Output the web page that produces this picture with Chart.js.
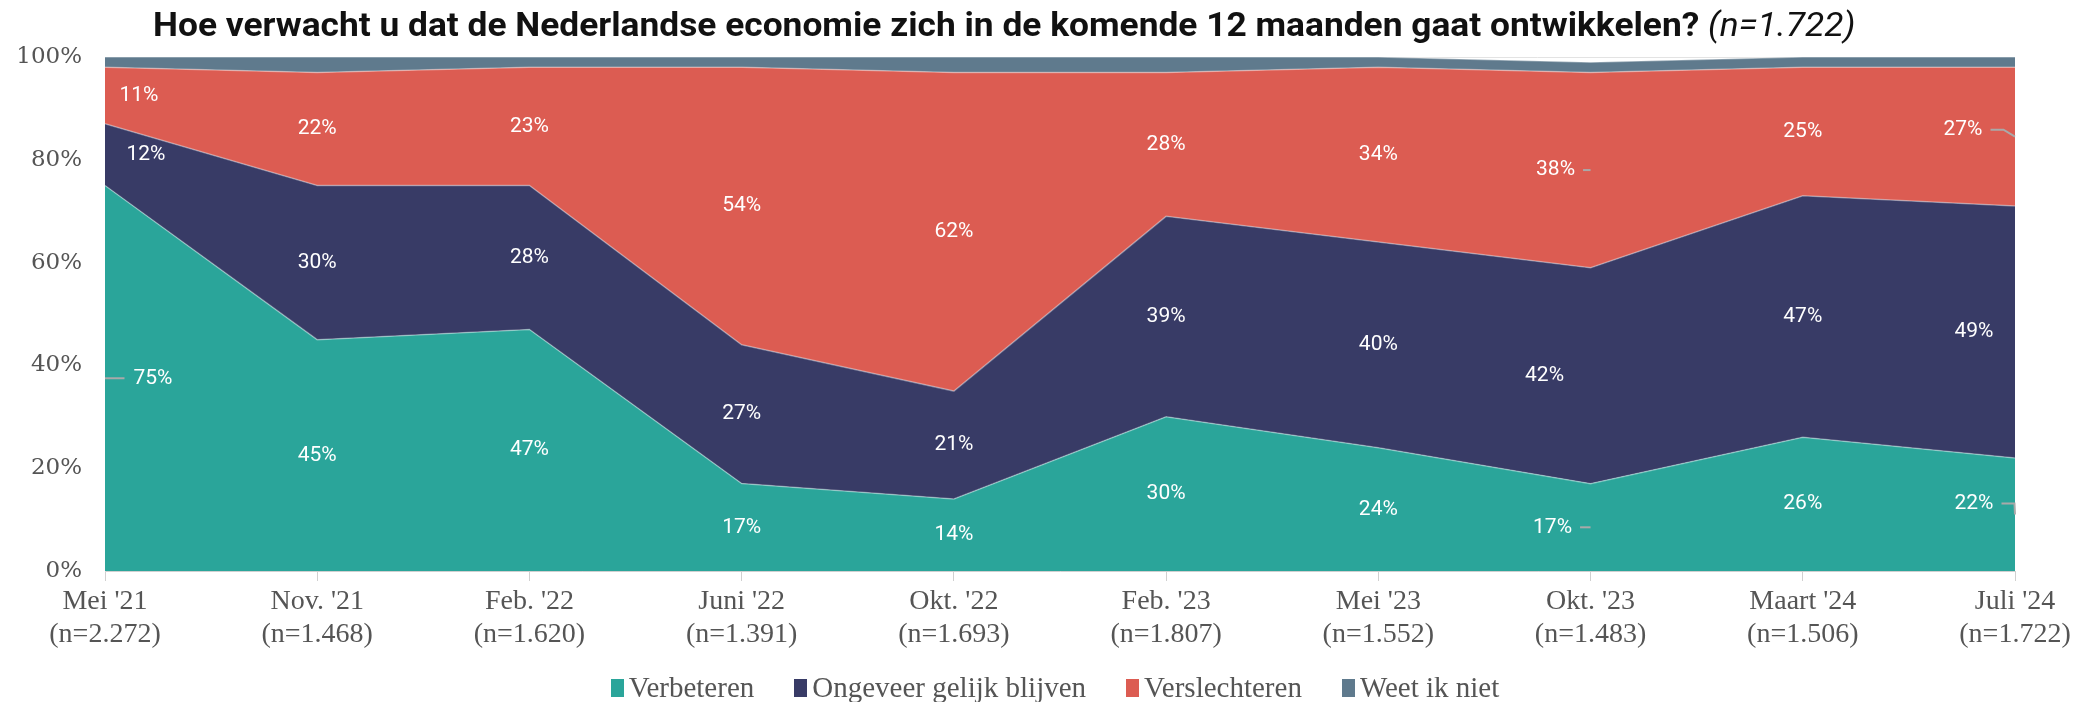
<!DOCTYPE html>
<html>
<head>
<meta charset="utf-8">
<script src="https://cdn.jsdelivr.net/npm/chart.js@4.4.1/dist/chart.umd.min.js"></script>
<style>
  body { margin: 0; background: #fff; }
  #wrap { position: relative; width: 2083px; height: 702px; }
  #title {
    position: absolute; left: 153px; top: 4px;
    font-family: Roboto, 'Liberation Sans', sans-serif; font-size: 34px;
    color: #111; white-space: nowrap; transform-origin: left top;
  }
  #title b { font-weight: 700; }
  #title i { font-weight: 400; }
  #legend {
    position: absolute; left: 100px; width: 1910px; top: 671px;
    display: flex; justify-content: center; gap: 40px;
    font-family: 'Liberation Serif', serif; font-size: 29px; color: #555;
  }
  #legend span.item { display: flex; align-items: center; gap: 5px; }
  #legend span.box { display: inline-block; width: 13px; height: 18px; }
</style>
</head>
<body>
<div id="wrap">
  <div id="title"><b>Hoe verwacht u dat de Nederlandse economie zich in de komende 12 maanden gaat ontwikkelen?</b> <i>(n=1.722)</i></div>
  <canvas id="myChart" width="2083" height="702"></canvas>
  <div id="legend"></div>
</div>
<script>
// data
const months = ["Mei '21", "Nov. '21", "Feb. '22", "Juni '22", "Okt. '22", "Feb. '23", "Mei '23", "Okt. '23", "Maart '24", "Juli '24"];
const sampleSizes = ['(n=2.272)', '(n=1.468)', '(n=1.620)', '(n=1.391)', '(n=1.693)', '(n=1.807)', '(n=1.552)', '(n=1.483)', '(n=1.506)', '(n=1.722)'];

const verbeteren = [75, 45, 47, 17, 14, 30, 24, 17, 26, 22];
const gelijk = [12, 30, 28, 27, 21, 39, 40, 42, 47, 49];
const verslechteren = [11, 22, 23, 54, 62, 28, 34, 38, 25, 27];
const weetNiet = [2, 3, 2, 2, 3, 3, 2, 2, 2, 2];

const seriesNames = ['Verbeteren', 'Ongeveer gelijk blijven', 'Verslechteren', 'Weet ik niet'];
const seriesColors = ['#2aa59a', '#383b66', '#dc5c52', '#5f7a8d'];
const yTicks = [0, 20, 40, 60, 80, 100];

// titel breedte passend maken
const title = document.getElementById('title');
title.style.transform = 'scaleX(' + (1703 / title.offsetWidth) + ')';

// legenda
const legend = document.getElementById('legend');
seriesNames.forEach((name, i) => {
    legend.innerHTML += '<span class="item"><span class="box" style="background:' + seriesColors[i] + '"></span>' + name + '</span>';
});

// labels in het midden van elke band
const tweaks = {
    '0-0': { dx: 48, leader: 'left' },
    '1-0': { dx: 41 },
    '2-0': { dx: 34 },
    '0-7': { dx: -38, leader: 'right' },
    '1-7': { dx: -46 },
    '2-7': { dx: -35, leader: 'right' },
    '0-9': { dx: -41, dy: -11, leader: 'edge' },
    '1-9': { dx: -41 },
    '2-9': { dx: -52, dy: -7, leader: 'edge' }
};

const bandLabels = {
    id: 'bandLabels',
    afterDatasetsDraw(chart) {
        const ctx = chart.ctx;
        const yScale = chart.scales.y;
        const area = chart.chartArea;
        ctx.save();
        ctx.font = '21px Roboto';
        ctx.textAlign = 'center';
        ctx.textBaseline = 'middle';
        for (let d = 0; d < 3; d++) {
            const meta = chart.getDatasetMeta(d);
            const values = chart.data.datasets[d].data;
            meta.data.forEach((pt, i) => {
                const bottom = d == 0 ? yScale.getPixelForValue(0) : chart.getDatasetMeta(d - 1).data[i].y;
                const mid = (pt.y + bottom) / 2;
                const t = tweaks[d + '-' + i] || {};
                const x = pt.x + (t.dx || 0);
                const y = mid + (t.dy || 0);
                const txt = values[i] + '%';
                const w = ctx.measureText(txt).width;
                ctx.fillStyle = '#fff';
                ctx.fillText(txt, x, y);
                if (t.leader) {
                    ctx.strokeStyle = '#a9a9a9';
                    ctx.lineWidth = 2;
                    ctx.beginPath();
                    if (t.leader == 'left') {
                        ctx.moveTo(area.left, y);
                        ctx.lineTo(x - w / 2 - 9, y);
                    } else if (t.leader == 'right') {
                        ctx.moveTo(x + w / 2 + 8, y);
                        ctx.lineTo(pt.x, y);
                    } else {
                        ctx.moveTo(x + w / 2 + 8, y);
                        ctx.lineTo(x + w / 2 + 21, y);
                        ctx.lineTo(area.right, mid);
                    }
                    ctx.stroke();
                }
            });
        }
        ctx.restore();
    }
};

const seriesData = [verbeteren, gelijk, verslechteren, weetNiet];

const config = {
    type: 'line',
    data: {
        labels: months.map((m, i) => [m, sampleSizes[i]]),
        datasets: seriesData.map((vals, i) => ({
            label: seriesNames[i],
            data: vals,
            fill: i == 0 ? 'origin' : '-1',
            backgroundColor: seriesColors[i],
            borderColor: 'rgba(255,255,255,0.35)',
            borderWidth: 1.5,
            pointRadius: 0,
            tension: 0
        }))
    },
    options: {
        responsive: false,
        animation: false,
        devicePixelRatio: 1,
        layout: { padding: { top: 57, right: 68, left: 0, bottom: 51 } },
        plugins: {
            legend: { display: false },
            tooltip: { enabled: false }
        },
        scales: {
            x: {
                offset: false,
                grid: { drawOnChartArea: false, drawTicks: true, tickLength: 10, color: '#d0d0d0' },
                border: { color: '#d0d0d0' },
                ticks: {
                    color: '#555',
                    font: { family: 'Liberation Serif', size: 28, lineHeight: 1.15 },
                    padding: 5,
                    maxRotation: 0,
                    autoSkip: false
                },
                afterFit: (s) => { s.height = 80; }
            },
            y: {
                stacked: true,
                min: 0,
                max: 100,
                afterBuildTicks: (s) => { s.ticks = yTicks.map(v => ({ value: v })); },
                ticks: {
                    callback: (v) => v + '%',
                    color: '#555',
                    font: { family: 'DejaVu Serif', size: 23 },
                    padding: 23
                },
                grid: { drawTicks: false, color: '#e3e3e3' },
                border: { color: '#d8d8d8' },
                afterFit: (s) => { s.width = 105; }
            }
        }
    },
    plugins: [bandLabels]
};

const myChart = new Chart(document.getElementById('myChart'), config);
</script>
</body>
</html>
